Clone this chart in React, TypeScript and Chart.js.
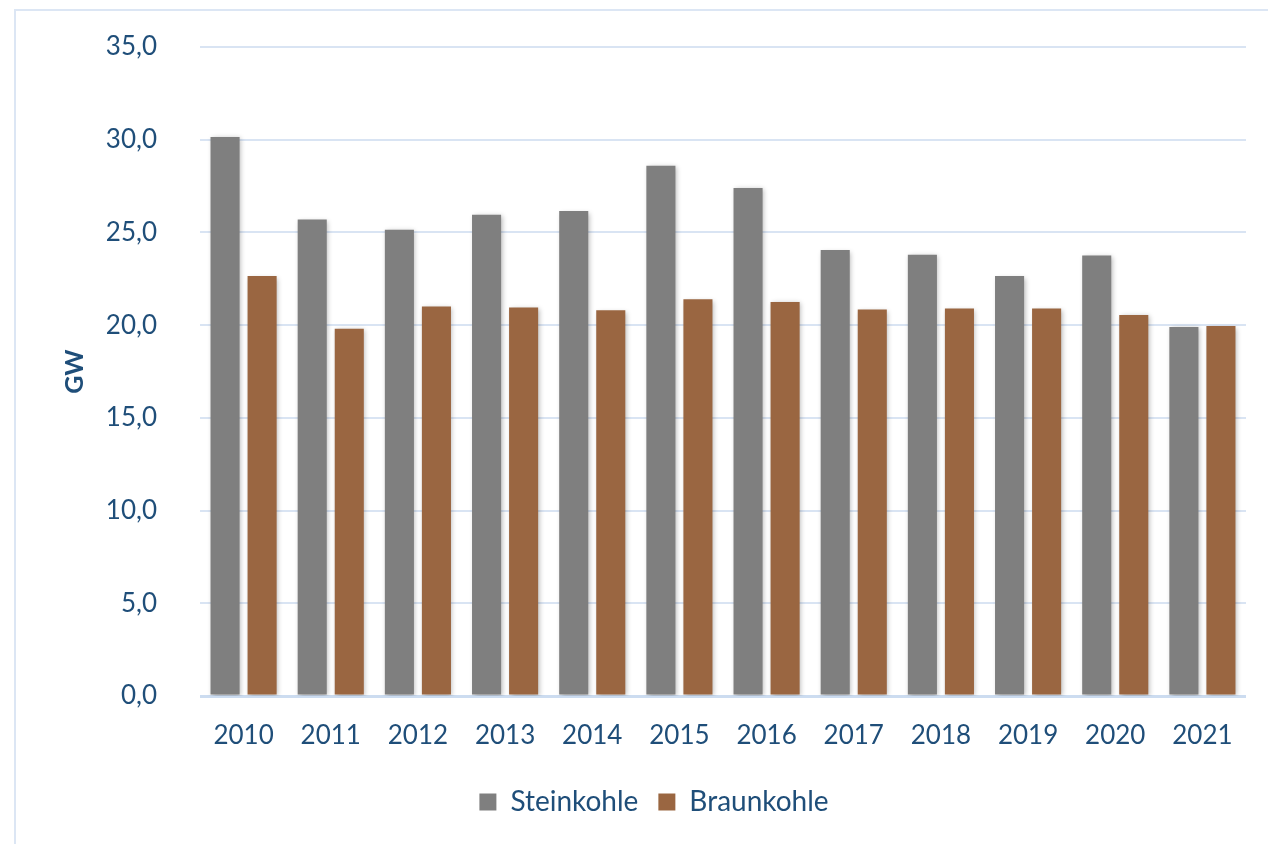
import React, { useEffect, useRef } from "react";
import { Chart, registerables } from "chart.js";

Chart.register(...registerables);

const years = ["2010", "2011", "2012", "2013", "2014", "2015", "2016", "2017", "2018", "2019", "2020", "2021"];
const steinkohle = [30.15, 25.7, 25.15, 25.95, 26.15, 28.6, 27.4, 24.05, 23.8, 22.65, 23.75, 19.9];
const braunkohle = [22.65, 19.8, 21.0, 20.95, 20.8, 21.4, 21.25, 20.85, 20.9, 20.9, 20.55, 19.95];
const yTicks = [0, 5, 10, 15, 20, 25, 30, 35];

const TEXT = "#1F4E79";
const FONT = "Lato";

const shadowPlugin = {
  id: "barShadow",
  beforeDatasetsDraw(chart: any) {
    const ctx = chart.ctx;
    ctx.save();
    ctx.shadowColor = "rgba(0,0,0,0.28)";
    ctx.shadowBlur = 5;
    ctx.shadowOffsetX = 1.5;
    ctx.shadowOffsetY = 1.5;
  },
  afterDatasetsDraw(chart: any) {
    chart.ctx.restore();
  },
};

export default function App() {
  const ref = useRef<HTMLCanvasElement>(null);
  useEffect(() => {
    if (!ref.current) return;
    const chart = new Chart(ref.current, {
      type: "bar",
      data: {
        labels: years,
        datasets: [
          { label: "Steinkohle", data: steinkohle, backgroundColor: "#7F7F7F", categoryPercentage: 0.85, barPercentage: 0.785 },
          { label: "Braunkohle", data: braunkohle, backgroundColor: "#9A6641", categoryPercentage: 0.85, barPercentage: 0.785 },
        ],
      },
      plugins: [shadowPlugin],
      options: {
        animation: false,
        responsive: false,
        maintainAspectRatio: false,
        layout: { padding: { left: 62, right: 22, top: 47, bottom: 18 } },
        plugins: {
          tooltip: { enabled: false },
          legend: {
            position: "bottom",
            labels: {
              boxWidth: 17,
              boxHeight: 17,
              padding: 20,
              color: TEXT,
              font: { family: FONT, size: 28 },
            },
          },
        },
        scales: {
          x: {
            grid: { display: false, drawTicks: false },
            border: { display: false },
            ticks: { color: TEXT, font: { family: FONT, size: 26 }, padding: 24, maxRotation: 0 },
            afterFit: (s: any) => { s.height = 72; },
          },
          y: {
            min: 0,
            max: 35,
            afterBuildTicks: (s: any) => { s.ticks = yTicks.map((v) => ({ value: v })); },
            grid: {
              drawTicks: true,
              tickLength: 43,
              tickColor: "rgba(0,0,0,0)",
              lineWidth: (c: any) => (c.tick && c.tick.value === 0 ? 3 : 2),
              color: (c: any) => (c.tick && c.tick.value === 0 ? "#CCDCF0" : "#D9E4F3"),
            },
            border: { display: false },
            ticks: {
              color: TEXT,
              font: { family: FONT, size: 26 },
              padding: 0,
              callback: (v: any) => Number(v).toFixed(1).replace(".", ","),
            },
            title: {
              display: true,
              text: "GW",
              color: TEXT,
              font: { family: FONT, size: 25, weight: "bold", lineHeight: 1.0 },
              padding: { top: 0, bottom: 0 },
            },
            afterFit: (s: any) => { s.width = 138; },
          },
        },
      },
    } as any);
    return () => chart.destroy();
  }, []);

  return (
    <div style={{ position: "absolute", left: 0, top: 0, width: 1268, height: 844, overflow: "hidden", background: "#fff" }}>
      <div
        style={{
          position: "absolute",
          left: 14,
          top: 9,
          width: 1400,
          height: 1000,
          border: "2px solid #DCE6F4",
          boxSizing: "border-box",
        }}
      />
      <canvas ref={ref} width={1268} height={844} style={{ position: "absolute", left: 0, top: 0, width: 1268, height: 844 }} />
    </div>
  );
}
